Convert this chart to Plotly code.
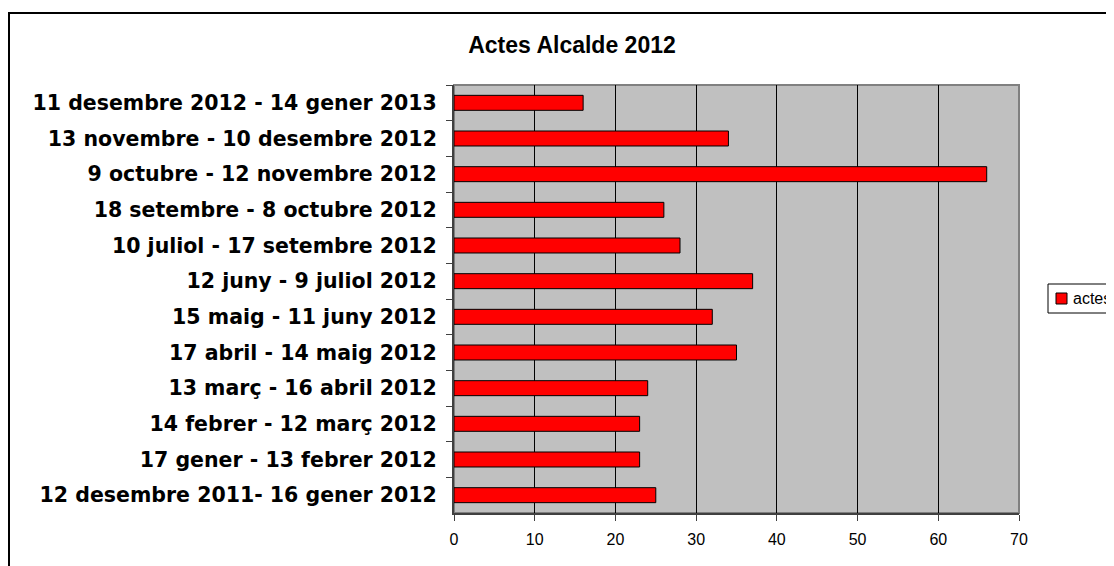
import plotly.graph_objects as go

categories = [
    "11 desembre 2012 - 14 gener 2013",
    "13 novembre - 10 desembre 2012",
    "9 octubre - 12 novembre 2012",
    "18 setembre - 8 octubre 2012",
    "10 juliol - 17 setembre 2012",
    "12 juny - 9 juliol 2012",
    "15 maig - 11 juny 2012",
    "17 abril - 14 maig 2012",
    "13 març - 16 abril 2012",
    "14 febrer - 12 març 2012",
    "17 gener - 13 febrer 2012",
    "12 desembre 2011- 16 gener 2012",
]
actes = [16, 34, 66, 26, 28, 37, 32, 35, 24, 23, 23, 25]
series_name = "actes"
x_ticks = [0, 10, 20, 30, 40, 50, 60, 70]

# page body has an 8px margin; work in figure coordinates = window - 8
OFF = 8
W, H = 1114 - OFF, 566 - OFF
L, R, T, B = 454 - OFF, 95, 85 - OFF, 53
pw, ph = W - L - R, H - T - B

def px_x(X):
    return (X - OFF - L) / pw

def px_y(Y):
    return (H - B - (Y - OFF)) / ph

fig = go.Figure()
fig.add_trace(go.Bar(
    x=actes, y=categories, orientation="h", name=series_name,
    marker=dict(color="#FF0000", line=dict(color="#000000", width=1)),
    showlegend=False,
))

fig.update_layout(
    width=W, height=H,
    margin=dict(l=L, r=R, t=T, b=B, autoexpand=False),
    paper_bgcolor="white", plot_bgcolor="#C0C0C0",
    bargap=0.58,
    title=dict(text="<b>Actes Alcalde 2012</b>", xref="container", yref="container",
               x=(572 - OFF) / W, xanchor="center", y=1 - (45 - OFF) / H, yanchor="middle",
               font=dict(family="Liberation Sans, Arial", size=23, color="black")),
    font=dict(family="Liberation Sans, Arial", color="black"),
    shapes=[
        dict(type="rect", xref="paper", yref="paper", x0=0, x1=1, y0=0, y1=1,
             line=dict(color="#808080", width=2), layer="below"),
        # outer chart border
        dict(type="rect", xref="paper", yref="paper",
             x0=px_x(9), x1=px_x(1140), y0=px_y(600), y1=px_y(13),
             line=dict(color="black", width=2), fillcolor="rgba(0,0,0,0)"),
        # legend box
        dict(type="rect", xref="paper", yref="paper",
             x0=px_x(1048), x1=px_x(1140), y0=px_y(313), y1=px_y(284),
             line=dict(color="black", width=1), fillcolor="white"),
        # legend swatch
        dict(type="rect", xref="paper", yref="paper",
             x0=px_x(1056), x1=px_x(1067), y0=px_y(304), y1=px_y(293),
             line=dict(color="black", width=1), fillcolor="#FF0000"),
    ],
    annotations=[
        dict(text=series_name, xref="paper", yref="paper", x=px_x(1071), y=px_y(298.5),
             xanchor="left", yanchor="middle", showarrow=False,
             font=dict(family="Liberation Sans, Arial", size=16, color="black")),
    ],
)
fig.update_xaxes(
    range=[0, 70], tickvals=x_ticks, ticktext=[str(v) for v in x_ticks],
    showgrid=True, gridcolor="#000000", gridwidth=1,
    showline=True, linecolor="#404040", linewidth=2,
    ticks="outside", ticklen=6, tickcolor="#404040",
    tickfont=dict(family="Liberation Sans, Arial", size=16, color="black"),
    ticklabelstandoff=5,
    zeroline=False,
)
fig.update_yaxes(
    autorange="reversed", type="category",
    showline=True, linecolor="#404040", linewidth=2,
    ticks="outside", ticklen=6, tickcolor="#404040", tickson="boundaries",
    showgrid=False,
    tickfont=dict(family="DejaVu Sans", size=20.5, color="black"),
    tickprefix="<b>", ticksuffix="</b>",
    ticklabelstandoff=11,
)

fig.write_html("out.html")
